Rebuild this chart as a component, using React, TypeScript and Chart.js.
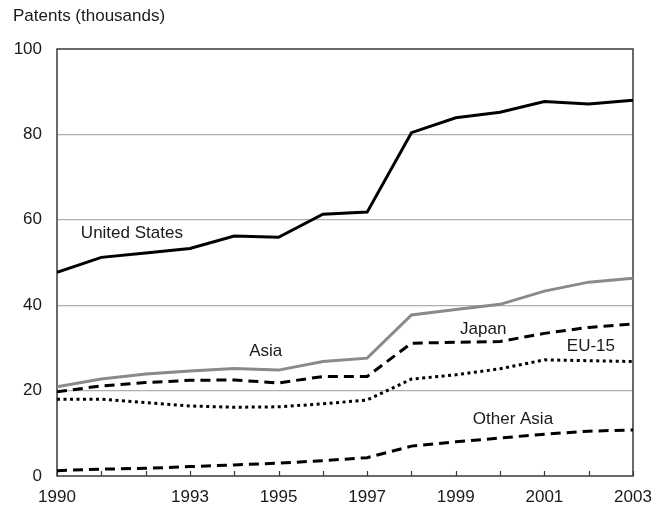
import React, { useEffect, useRef } from "react";
import { Chart, registerables } from "chart.js";

Chart.register(...registerables);

const years = [1990, 1991, 1992, 1993, 1994, 1995, 1996, 1997, 1998, 1999, 2000, 2001, 2002, 2003];
const unitedStates = [47.7, 51.2, 52.2, 53.3, 56.2, 55.9, 61.3, 61.8, 80.4, 83.9, 85.2, 87.7, 87.1, 88.0];
const asia = [20.9, 22.7, 23.9, 24.6, 25.2, 24.8, 26.8, 27.6, 37.7, 39.0, 40.2, 43.3, 45.4, 46.3];
const japan = [19.7, 21.1, 21.9, 22.4, 22.5, 21.8, 23.3, 23.3, 31.1, 31.3, 31.5, 33.4, 34.8, 35.6];
const eu15 = [18.0, 18.0, 17.2, 16.4, 16.1, 16.2, 16.9, 17.8, 22.7, 23.7, 25.1, 27.2, 27.0, 26.8];
const otherAsia = [1.25, 1.6, 1.8, 2.2, 2.6, 3.0, 3.6, 4.3, 7.0, 8.0, 8.9, 9.8, 10.5, 10.8];

const xTickLabels = [1990, 1993, 1995, 1997, 1999, 2001, 2003];
const yMin = 0;
const yMax = 100;
const yStep = 20;
const axisTitle = "Patents (thousands)";

const seriesNames = ["United States", "Asia", "Japan", "EU-15", "Other Asia"];
const nameYears = [1991.69, 1994.71, 1999.62, 2002.05, 2000.29];
const nameValues = [56.9, 29.3, 34.4, 30.4, 13.3];

const FONT = '"Liberation Sans", Arial, sans-serif';
const FONT_SIZE = 17;
const TEXT = "#1a1a1a";
const FRAME = "#3a3a3a";

const toPoints = (vals: number[]) => vals.map((v, i) => ({ x: years[i], y: v }));

const decorPlugin = {
  id: "decor",
  beforeDatasetsDraw(chart: any) {
    const { ctx, chartArea } = chart;
    const xs = chart.scales.x;
    ctx.save();
    ctx.strokeStyle = FRAME;
    ctx.lineWidth = 1.5;
    ctx.strokeRect(chartArea.left, chartArea.top, chartArea.right - chartArea.left, chartArea.bottom - chartArea.top);
    ctx.lineWidth = 1.2;
    for (const y of years) {
      const px = Math.round(xs.getPixelForValue(y)) + 0.5;
      ctx.beginPath();
      ctx.moveTo(px, chartArea.bottom);
      ctx.lineTo(px, chartArea.bottom - 5);
      ctx.stroke();
    }
    ctx.restore();
  },
  afterDraw(chart: any) {
    const { ctx } = chart;
    const xs = chart.scales.x;
    const ys = chart.scales.y;
    ctx.save();
    ctx.fillStyle = TEXT;
    ctx.font = `${FONT_SIZE}px ${FONT}`;
    ctx.textAlign = "left";
    ctx.textBaseline = "middle";
    ctx.fillText(axisTitle, 13, 16);
    ctx.textAlign = "center";
    seriesNames.forEach((name, i) => {
      ctx.fillText(name, xs.getPixelForValue(nameYears[i]), ys.getPixelForValue(nameValues[i]));
    });
    ctx.restore();
  },
};

export default function App() {
  const ref = useRef<HTMLCanvasElement | null>(null);

  useEffect(() => {
    if (!ref.current) return;
    const common = { pointRadius: 0, pointHoverRadius: 0, tension: 0, fill: false, borderCapStyle: "butt" };
    const chart = new Chart(ref.current, {
      type: "line",
      data: {
        datasets: [
          { ...common, label: seriesNames[0], data: toPoints(unitedStates), borderColor: "#000000", borderWidth: 3 },
          { ...common, label: seriesNames[1], data: toPoints(asia), borderColor: "#8a8a8a", borderWidth: 3 },
          { ...common, label: seriesNames[2], data: toPoints(japan), borderColor: "#000000", borderWidth: 3, borderDash: [10, 6] },
          { ...common, label: seriesNames[3], data: toPoints(eu15), borderColor: "#000000", borderWidth: 3, borderDash: [3, 3.5] },
          { ...common, label: seriesNames[4], data: toPoints(otherAsia), borderColor: "#000000", borderWidth: 3, borderDash: [10, 6] },
        ],
      } as any,
      options: {
        animation: false,
        responsive: true,
        maintainAspectRatio: false,
        events: [],
        layout: { padding: { top: 49, right: 39, left: 0, bottom: 0 } },
        plugins: { legend: { display: false }, tooltip: { enabled: false }, title: { display: false } },
        scales: {
          x: {
            type: "linear",
            min: years[0],
            max: years[years.length - 1],
            afterBuildTicks: (scale: any) => {
              scale.ticks = xTickLabels.map((v) => ({ value: v }));
            },
            afterFit: (scale: any) => {
              scale.height = 33;
            },
            grid: { display: false, drawTicks: false },
            border: { display: false },
            ticks: {
              padding: 11,
              color: TEXT,
              font: { family: FONT, size: FONT_SIZE },
              maxRotation: 0,
              autoSkip: false,
              callback: (v: any) => String(v),
            },
          },
          y: {
            type: "linear",
            min: yMin,
            max: yMax,
            afterFit: (scale: any) => {
              scale.width = 57;
            },
            grid: {
              drawTicks: false,
              color: (c: any) => (c.tick && (c.tick.value === yMin || c.tick.value === yMax) ? "rgba(0,0,0,0)" : "#b0b0b0"),
              lineWidth: 1.2,
            },
            border: { display: false },
            ticks: {
              stepSize: yStep,
              padding: 15,
              color: TEXT,
              font: { family: FONT, size: FONT_SIZE },
            },
          },
        },
      } as any,
      plugins: [decorPlugin],
    });
    return () => chart.destroy();
  }, []);

  return (
    <div style={{ position: "absolute", left: 0, top: 0, width: 672, height: 509, background: "#ffffff" }}>
      <canvas ref={ref} />
    </div>
  );
}
